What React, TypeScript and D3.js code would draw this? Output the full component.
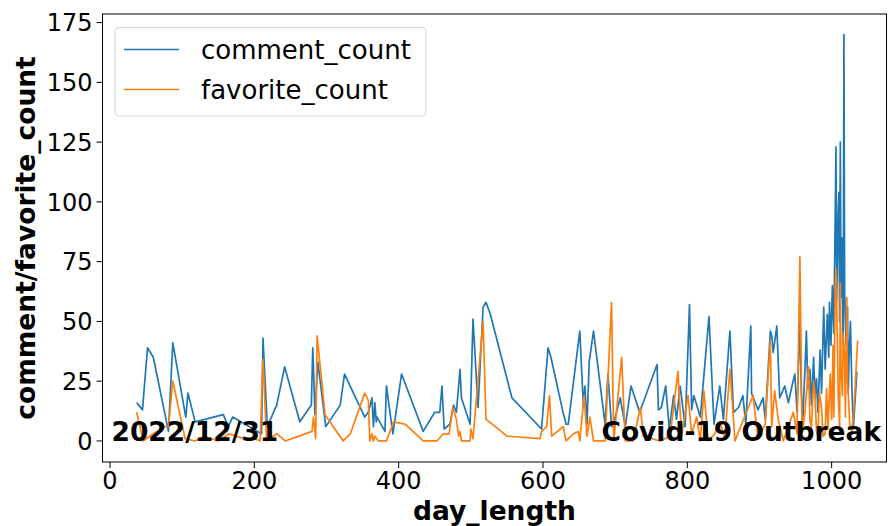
import React from 'react';
import * as d3 from 'd3';

// values
const commentDays = [37, 45, 52, 60, 81, 87, 105, 108, 118, 157, 164, 170, 210, 212, 218, 231, 242, 263, 279, 281, 284, 288, 299, 319, 325, 353, 358, 363, 365, 367, 369, 370, 381, 383, 392, 404, 434, 450, 457, 460, 463, 471, 476, 480, 485, 487, 499, 503, 510, 517, 521, 527, 557, 598, 607, 611, 627, 632, 635, 651, 656, 658, 661, 664, 670, 686, 690, 695, 700, 707, 714, 722, 734, 758, 760, 764, 770, 775, 781, 785, 790, 797, 803, 806, 809, 818, 830, 837, 845, 850, 859, 864, 871, 877, 881, 888, 889, 898, 905, 908, 915, 917, 919, 924, 928, 935, 940, 945, 949, 952, 956, 958, 960, 963, 965, 967, 970, 972, 975, 977, 979, 981, 984, 986, 989, 991, 994, 996, 997, 999, 1001, 1003, 1006, 1007, 1009, 1010, 1011, 1012, 1013, 1014, 1016, 1017, 1018, 1020, 1022, 1023, 1024, 1026, 1028, 1030, 1035];
const commentCounts = [16, 13, 39, 35, 4, 41, 10, 20, 8, 11, 6, 10, 3, 43, 6, 15, 31, 8, 15, 39, 11, 33, 6, 15, 28, 10, 12, 18, 6, 16, 8, 10, 4, 23, 3, 28, 4, 12, 12, 23, 5, 7, 15, 12, 30, 18, 7, 51, 14, 56, 58, 53, 18, 5, 39, 35, 13, 7, 7, 46, 14, 23, 7, 33, 46, 7, 28, 6, 10, 18, 6, 23, 12, 32, 13, 14, 23, 5, 19, 9, 23, 6, 57, 13, 19, 10, 52, 7, 23, 9, 46, 12, 14, 19, 7, 48, 20, 13, 18, 9, 46, 44, 37, 48, 18, 23, 16, 23, 28, 12, 51, 20, 9, 30, 46, 22, 30, 15, 35, 18, 26, 12, 38, 20, 56, 30, 53, 35, 58, 40, 65, 45, 123, 59, 95, 104, 50, 125, 60, 85, 40, 170, 62, 40, 56, 20, 34, 50, 23, 5, 29];

const favoriteDays = [37, 46, 60, 76, 81, 87, 104, 118, 130, 150, 165, 185, 200, 208, 212, 217, 231, 243, 280, 282, 285, 287, 298, 323, 333, 353, 358, 360, 363, 365, 367, 372, 383, 393, 409, 434, 453, 462, 470, 475, 480, 483, 485, 487, 499, 500, 503, 517, 521, 534, 550, 596, 598, 605, 609, 612, 628, 632, 642, 649, 651, 657, 661, 665, 670, 686, 695, 698, 709, 714, 725, 735, 739, 762, 776, 787, 792, 801, 806, 813, 818, 823, 829, 838, 845, 852, 859, 866, 891, 898, 908, 915, 917, 921, 926, 933, 940, 947, 952, 956, 959, 963, 968, 970, 972, 975, 977, 979, 981, 983, 986, 988, 991, 993, 995, 998, 1000, 1002, 1003, 1005, 1006, 1008, 1009, 1011, 1012, 1013, 1015, 1016, 1018, 1019, 1021, 1022, 1024, 1025, 1028, 1031, 1036];
const favoriteCounts = [12, 0, 3, 6, 6, 25, 1, 0, 2, 0, 3, 1, 1, 0, 34, 0, 3, 0, 4, 10, 1, 44, 11, 0, 3, 20, 17, 0, 3, 0, 2, 0, 0, 8, 7, 0, 0, 3, 3, 14, 9, 2, 4, 0, 0, 5, 1, 50, 9, 6, 2, 1, 4, 6, 19, 2, 6, 0, 3, 4, 0, 19, 2, 10, 0, 0, 58, 0, 35, 0, 0, 14, 2, 0, 2, 29, 2, 19, 3, 10, 0, 21, 0, 3, 8, 1, 30, 0, 19, 1, 7, 42, 6, 21, 9, 0, 6, 12, 3, 77, 3, 12, 31, 8, 6, 25, 19, 4, 2, 20, 14, 2, 3, 22, 5, 28, 9, 40, 10, 65, 72, 42, 20, 6, 66, 30, 19, 45, 35, 10, 60, 25, 14, 7, 4, 14, 42];

const xTicks = [0, 200, 400, 600, 800, 1000];
const yTicks = [0, 25, 50, 75, 100, 125, 150, 175];
const seriesNames = ['comment_count', 'favorite_count'];
const seriesColors = ['#1f77b4', '#ff7f0e'];

const W = 888;
const H = 526;
const plot = { left: 102.5, right: 886.5, top: 14, bottom: 462 };
const font = 'DejaVu Sans, sans-serif';

export default function App() {
  const x = d3.scaleLinear().domain([-10.4, 1076]).range([plot.left, plot.right]);
  const y = d3.scaleLinear().domain([-8.8, 178.6]).range([plot.bottom, plot.top]);

  const line = d3.line<[number, number]>()
    .x(d => x(d[0]))
    .y(d => y(d[1]));

  const comments = commentDays.map((d, i) => [d, commentCounts[i]] as [number, number]);
  const favorites = favoriteDays.map((d, i) => [d, favoriteCounts[i]] as [number, number]);
  const series = [comments, favorites];

  return (
    <svg width={W} height={H} style={{ position: 'absolute', left: 0, top: 0, background: '#fff' }}
      fontFamily={font}>
      <defs>
        <clipPath id="plotclip">
          <rect x={plot.left} y={plot.top} width={plot.right - plot.left} height={plot.bottom - plot.top} />
        </clipPath>
      </defs>

      <g clipPath="url(#plotclip)">
        {series.map((s, i) => (
          <path key={i} d={line(s) || ''} fill="none" stroke={seriesColors[i]}
            strokeWidth={1.7} strokeLinejoin="round" />
        ))}
      </g>

      {/* frame */}
      <rect x={plot.left} y={plot.top} width={plot.right - plot.left} height={plot.bottom - plot.top}
        fill="none" stroke="#000" strokeWidth={1} />

      {/* x axis */}
      {xTicks.map(t => (
        <g key={t} transform={`translate(${x(t)},${plot.bottom})`}>
          <line y2={6} stroke="#000" strokeWidth={1} />
          <text y={27} textAnchor="middle" fontSize={24} fill="#000">{t}</text>
        </g>
      ))}
      {/* y axis */}
      {yTicks.map(t => (
        <g key={t} transform={`translate(${plot.left},${y(t)})`}>
          <line x2={-6} stroke="#000" strokeWidth={1} />
          <text x={-10} dy="0.36em" textAnchor="end" fontSize={24} fill="#000">{t}</text>
        </g>
      ))}

      <text x={(plot.left + plot.right) / 2} y={520} textAnchor="middle" fontSize={26.5}
        fontWeight="bold" fill="#000">day_length</text>
      <text transform={`translate(35,${(plot.top + plot.bottom) / 2}) rotate(-90)`} textAnchor="middle"
        fontSize={26.5} fontWeight="bold" fill="#000">comment/favorite_count</text>

      {/* annotations */}
      <text x={x(2)} y={y(0)} fontSize={26.5} fontWeight="bold" fill="#000">2022/12/31</text>
      <text x={x(681)} y={y(0)} fontSize={26.5} fontWeight="bold" fill="#000">Covid-19 Outbreak</text>

      {/* legend */}
      <g>
        <rect x={115} y={27.5} width={311} height={88.5} rx={4} fill="#fff" fillOpacity={0.8}
          stroke="#d5d5d5" strokeWidth={1} />
        {seriesNames.map((name, i) => (
          <g key={name} transform={`translate(124,${49.5 + i * 40})`}>
            <line x1={0} x2={55} stroke={seriesColors[i]} strokeWidth={1.7} />
            <text x={77} dy="0.36em" fontSize={26} fill="#000">{name}</text>
          </g>
        ))}
      </g>
    </svg>
  );
}
